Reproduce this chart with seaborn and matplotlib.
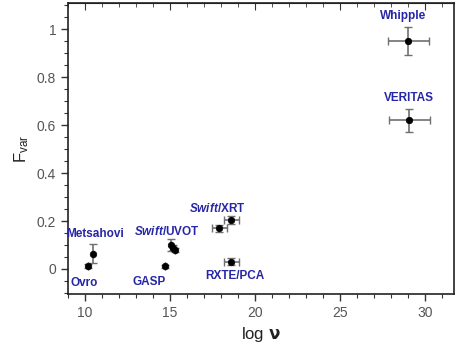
import numpy as np
import pandas as pd
import matplotlib
matplotlib.use("Agg")
import matplotlib.pyplot as plt
from matplotlib.ticker import MultipleLocator
import seaborn as sns

# data
log_nu = [10.2, 10.5, 14.7, 15.05, 15.15, 15.3, 17.9, 18.6, 18.6, 29.0, 29.05]
fvar = [0.012, 0.063, 0.012, 0.100, 0.088, 0.080, 0.170, 0.203, 0.031, 0.952, 0.620]
fvar_err = [0.008, 0.040, 0.006, 0.025, 0.010, 0.008, 0.015, 0.016, 0.015, 0.058, 0.048]
nu_err = [0.0, 0.0, 0.0, 0.0, 0.0, 0.0, 0.45, 0.45, 0.45, 1.2, 1.2]

labels = ["Ovro", "Metsahovi", "GASP", r"$\mathit{Swift}$/UVOT",
          r"$\mathit{Swift}$/XRT", "RXTE/PCA", "Whipple", "VERITAS"]
label_x = [9.95, 10.6, 13.8, 14.8, 17.8, 18.8, 28.7, 29.05]
label_y = [-0.06, 0.147, -0.055, 0.157, 0.253, -0.03, 1.055, 0.713]

df = pd.DataFrame({"log_nu": log_nu, "fvar": fvar})

sns.set_style("ticks")
plt.rcParams["font.family"] = ["Liberation Sans", "DejaVu Sans"]
plt.rcParams["mathtext.fontset"] = "custom"
plt.rcParams["mathtext.it"] = "Liberation Sans:italic:bold"
plt.rcParams["mathtext.rm"] = "Liberation Sans:bold"
plt.rcParams["mathtext.sf"] = "Liberation Sans"
plt.rcParams["mathtext.bf"] = "DejaVu Sans:bold"

fig = plt.figure(figsize=(4.56, 3.51), dpi=100)
ax = fig.add_axes([0.149, 0.162, 0.847, 0.83])

ax.errorbar(log_nu, fvar, yerr=fvar_err, xerr=nu_err, fmt="none",
            ecolor="#707070", elinewidth=1.2, capsize=3, capthick=1.0, zorder=2)
sns.scatterplot(data=df, x="log_nu", y="fvar", color="black", s=22,
                edgecolor="black", linewidth=0.5, ax=ax, zorder=3)

for t, x, y in zip(labels, label_x, label_y):
    ax.text(x, y, t, color="#2626a6", fontsize=8.5, fontweight="bold",
            ha="center", va="center")

ax.set_xlim(9.0, 31.7)
ax.set_ylim(-0.105, 1.11)
ax.xaxis.set_major_locator(MultipleLocator(5))
ax.xaxis.set_minor_locator(MultipleLocator(1))
ax.yaxis.set_major_locator(MultipleLocator(0.2))
ax.yaxis.set_minor_locator(MultipleLocator(0.05))
ax.set_yticks([0, 0.2, 0.4, 0.6, 0.8, 1.0])
ax.set_yticklabels(["0", "0.2", "0.4", "0.6", "0.8", "1"])

ax.tick_params(which="major", direction="out", length=5, width=1, colors="#333333",
               labelcolor="#555555", labelsize=10)
ax.tick_params(which="minor", direction="out", length=3, width=0.8, colors="#333333")

top = ax.secondary_xaxis("top")
top.xaxis.set_major_locator(MultipleLocator(5))
top.xaxis.set_minor_locator(MultipleLocator(1))
top.tick_params(which="both", direction="in", labeltop=False, colors="#333333")
top.tick_params(which="major", length=5)
top.tick_params(which="minor", length=3)

for s in ax.spines.values():
    s.set_color("#222222")
    s.set_linewidth(1.2)

ax.set_xlabel(r"$\mathsf{log}\ \mathbf{\nu}$", fontsize=12, color="#222222")
ax.set_ylabel(r"$\mathsf{F}_{\mathsf{var}}$", fontsize=12, color="#222222")

fig.savefig("out.png", dpi=100)
